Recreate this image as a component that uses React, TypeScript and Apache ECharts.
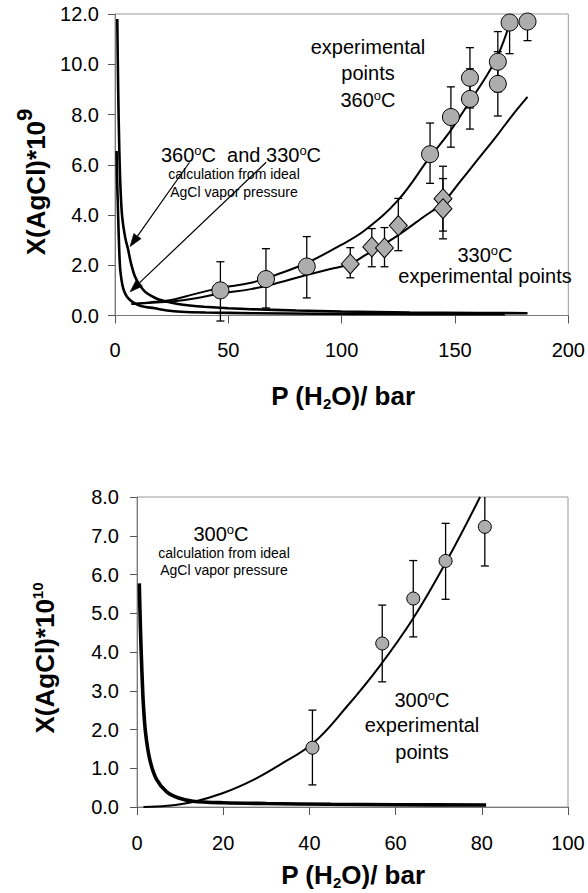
import React, { useEffect, useRef } from "react";
import * as echarts from "echarts";

const FONT = '"Liberation Sans", Arial, Helvetica, sans-serif';

// ---------- Top chart (360 and 330 C) ----------
const topXTicks = [0, 50, 100, 150, 200];
const topYTicks = [0, 2, 4, 6, 8, 10, 12];

// calculation from ideal AgCl vapor pressure, 360 C
const calc360: number[][] = [
  [1.0, 11.8], [1.4, 9.0], [1.9, 6.6], [2.5, 4.9], [3.2, 3.9], [4.5, 3.1], [5.8, 2.62],
  [7.0, 2.1], [8.8, 1.55], [11, 1.2], [13.2, 0.95], [16, 0.78], [19, 0.65], [23, 0.55],
  [27.8, 0.46], [33, 0.4], [39.3, 0.35], [50, 0.29], [60, 0.25], [80, 0.2], [100, 0.16],
  [130, 0.12], [160, 0.1], [182, 0.09],
];
// calculation from ideal AgCl vapor pressure, 330 C
const calc330: number[][] = [
  [0.7, 6.55], [0.9, 5.5], [1.2, 4.6], [1.6, 3.3], [2.2, 1.95], [2.9, 1.4], [3.6, 1.09],
  [4.6, 0.85], [5.8, 0.69], [7.5, 0.55], [10.2, 0.42], [13, 0.35], [17.5, 0.29], [23, 0.2],
  [29.2, 0.15], [40, 0.12], [61, 0.09], [90, 0.07], [120, 0.06], [150, 0.05], [172, 0.05],
];
// fitted curves through the experimental points
const fit360: number[][] = [
  [7.3, 0.46], [15, 0.52], [24.8, 0.62], [35, 0.85], [46.5, 1.1], [60, 1.3], [72, 1.65],
  [84.8, 2.1], [99.6, 2.8], [110.4, 3.4], [125, 4.6], [138.9, 6.3], [148, 7.35],
  [156.4, 8.5], [163, 9.4], [168.9, 10.35], [174.3, 11.66],
];
const fit330: number[][] = [
  [7.3, 0.46], [15, 0.5], [24.8, 0.56], [35, 0.68], [46.5, 0.88], [60, 1.05], [72, 1.3],
  [84.8, 1.62], [95, 1.85], [103.8, 2.05], [110.4, 2.4], [118, 2.8], [125, 3.2], [135, 3.85],
  [144.7, 4.5], [152, 5.3], [160, 6.2], [168, 7.1], [174.7, 7.9], [182, 8.7],
];
// experimental points: [P, X, low, high]
const exp360: number[][] = [
  [46.5, 1.0, -0.22, 2.14], [66.6, 1.45, 0.3, 2.66], [84.6, 1.95, 0.7, 3.14],
  [139, 6.42, 5.26, 7.66], [148.2, 7.9, 6.7, 9.1], [156.6, 9.46, 8.26, 10.66],
  [156.6, 8.62, 7.42, 9.82], [168.9, 10.1, 8.9, 11.3], [168.9, 9.22, 7.94, 10.5],
  [174.1, 11.66, 10.42, 12.9], [182.0, 11.7, 10.94, 12.46],
];
const exp330: number[][] = [
  [103.8, 2.05, 1.5, 2.7], [113.3, 2.73, 1.94, 3.46], [118.9, 2.69, 1.94, 3.5],
  [125, 3.58, 2.58, 4.66], [144.7, 4.65, 3.36, 5.94], [144.7, 4.25, 3.05, 5.45],
];
// annotation arrows: [fromP, fromX, toP, toX]
const topArrows: number[][] = [
  [32.9, 6.1, 6.6, 2.74],
  [66.7, 6.1, 6.6, 0.94],
];

// ---------- Bottom chart (300 C) ----------
const botXTicks = [0, 20, 40, 60, 80, 100];
const botYTicks = [0, 1, 2, 3, 4, 5, 6, 7, 8];
const calc300: number[][] = [
  [0.53, 5.77], [0.8, 4.6], [1.1, 3.6], [1.46, 2.68], [2.0, 1.9], [3.0, 1.21], [4.5, 0.72],
  [6.9, 0.39], [9.5, 0.24], [13, 0.15], [20, 0.11], [30, 0.09], [45, 0.07], [60, 0.06],
  [81, 0.05],
];
const fit300: number[][] = [
  [1.5, 0.0], [7, 0.03], [13, 0.13], [20, 0.36], [27, 0.7], [33, 1.08], [40.9, 1.65],
  [48.6, 2.58], [56.4, 3.65], [64.1, 4.87], [71.9, 6.36], [79.6, 8.0],
];
const exp300: number[][] = [
  [40.7, 1.53, 0.57, 2.5], [56.9, 4.22, 3.23, 5.21], [64.1, 5.38, 4.39, 6.36],
  [71.6, 6.35, 5.36, 7.32], [80.7, 7.23, 6.22, 8.25],
];

const errorRender = (cap: number) => (params: any, api: any) => {
  const x = api.value(0);
  const lo = api.value(2);
  const hi = api.value(3);
  const pHi = api.coord([x, hi]);
  const pLo = api.coord([x, lo]);
  const cs = params.coordSys;
  const topY = Math.max(pHi[1], cs.y);
  const style = { stroke: "#000", lineWidth: 1.3 };
  const children: any[] = [
    { type: "line", shape: { x1: pHi[0], y1: topY, x2: pLo[0], y2: pLo[1] }, style },
    { type: "line", shape: { x1: pLo[0] - cap, y1: pLo[1], x2: pLo[0] + cap, y2: pLo[1] }, style },
  ];
  if (pHi[1] >= cs.y) {
    children.push({ type: "line", shape: { x1: pHi[0] - cap, y1: pHi[1], x2: pHi[0] + cap, y2: pHi[1] }, style });
  }
  return { type: "group", children };
};

const axisCommon = {
  type: "value" as const,
  axisLine: { show: true, onZero: false, lineStyle: { color: "#7a7a7a", width: 1 } },
  axisTick: { show: true, length: 8, lineStyle: { color: "#555", width: 1 } },
  splitLine: { show: false },
};

const labelStyle = { fontSize: 20, color: "#000", fontFamily: FONT };

const richBase = {
  n: { fontSize: 20, fontFamily: FONT, color: "#000", lineHeight: 22 },
  s: { fontSize: 13, fontFamily: FONT, color: "#000", verticalAlign: "top", lineHeight: 13 },
  m: { fontSize: 14, fontFamily: FONT, color: "#000" },
};

function txt(x: number, y: number, text: string, rich: any = richBase) {
  return {
    type: "text",
    x,
    y,
    silent: true,
    style: { text, rich, align: "center", verticalAlign: "middle", fill: "#000" },
  };
}

const titleRich = {
  n: { fontSize: 26, fontWeight: "bold", fontFamily: FONT, color: "#000", lineHeight: 30 },
  nt: { fontSize: 26, fontWeight: "bold", fontFamily: FONT, color: "#000", lineHeight: 46 },
  s9: { fontSize: 22, fontWeight: "bold", fontFamily: FONT, color: "#000", verticalAlign: "top", lineHeight: 22 },
  s10: { fontSize: 15, fontWeight: "bold", fontFamily: FONT, color: "#000", verticalAlign: "top", lineHeight: 15 },
  sub: { fontSize: 15, fontWeight: "bold", fontFamily: FONT, color: "#000", verticalAlign: "bottom", lineHeight: 15 },
};

export default function App() {
  const ref = useRef<HTMLDivElement>(null);
  useEffect(() => {
    if (!ref.current) return;
    const chart = echarts.init(ref.current, undefined, { renderer: "svg" });
    const staticGraphic: any[] = [
      // top annotations
      txt(241, 155, "{n|360}{s|o}{n|C  and 330}{s|o}{n|C}"),
      txt(234, 174, "{m|calculation from ideal}"),
      txt(234, 192, "{m|AgCl vapor pressure}"),
      txt(368, 47, "{n|experimental}"),
      txt(368, 73, "{n|points}"),
      txt(368, 100, "{n|360}{s|o}{n|C}"),
      txt(485, 255, "{n|330}{s|o}{n|C}"),
      txt(485, 276, "{n|experimental points}"),
      // bottom annotations
      txt(221, 534, "{n|300}{s|o}{n|C}"),
      txt(224, 553, "{m|calculation from ideal}"),
      txt(224, 570, "{m|AgCl vapor pressure}"),
      txt(422, 700, "{n|300}{s|o}{n|C}"),
      txt(422, 725, "{n|experimental}"),
      txt(422, 752, "{n|points}"),
      // axis titles
      txt(343, 396, "{n|P (H}{sub|2}{n|O)/ bar}", titleRich),
      txt(353, 875, "{n|P (H}{sub|2}{n|O)/ bar}", titleRich),
      { ...txt(36, 182, "{nt|X(AgCl)*10}{s9|9}", titleRich), rotation: Math.PI / 2 },
      { ...txt(45, 658, "{n|X(AgCl)*10}{s10|10}", titleRich), rotation: Math.PI / 2 },
    ];
    const option: any = {
      animation: false,
      backgroundColor: "#fff",
      grid: [
        { left: 115, top: 14, width: 456, height: 301.5, show: true, borderColor: "#9a9a9a", borderWidth: 1 },
        { left: 137, top: 497, width: 431, height: 310, show: true, borderColor: "#9a9a9a", borderWidth: 1 },
      ],
      xAxis: [
        {
          ...axisCommon, gridIndex: 0, min: topXTicks[0], max: topXTicks[topXTicks.length - 1], interval: 50,
          axisLabel: { ...labelStyle, margin: 24 },
        },
        {
          ...axisCommon, gridIndex: 1, min: botXTicks[0], max: botXTicks[botXTicks.length - 1], interval: 20,
          axisLabel: { ...labelStyle, margin: 26 },
        },
      ],
      yAxis: [
        {
          ...axisCommon, gridIndex: 0, min: topYTicks[0], max: topYTicks[topYTicks.length - 1], interval: 2,
          axisTick: { show: true, length: 7, lineStyle: { color: "#555" } },
          axisLabel: { ...labelStyle, margin: 16, formatter: (v: number) => v.toFixed(1) },
        },
        {
          ...axisCommon, gridIndex: 1, min: botYTicks[0], max: botYTicks[botYTicks.length - 1], interval: 1,
          axisTick: { show: true, length: 7, lineStyle: { color: "#555" } },
          axisLabel: { ...labelStyle, margin: 18, formatter: (v: number) => v.toFixed(1) },
        },
      ],
      series: [
        { type: "line", xAxisIndex: 0, yAxisIndex: 0, data: calc360, symbol: "none", smooth: 0.3, lineStyle: { color: "#000", width: 2.6 }, z: 3 },
        { type: "line", xAxisIndex: 0, yAxisIndex: 0, data: calc330, symbol: "none", smooth: 0.3, lineStyle: { color: "#000", width: 2.6 }, z: 3 },
        { type: "line", xAxisIndex: 0, yAxisIndex: 0, data: fit360, symbol: "none", smooth: 0.4, lineStyle: { color: "#000", width: 2 }, z: 3 },
        { type: "line", xAxisIndex: 0, yAxisIndex: 0, data: fit330, symbol: "none", smooth: 0.4, lineStyle: { color: "#000", width: 2 }, z: 3 },
        { type: "custom", xAxisIndex: 0, yAxisIndex: 0, data: exp360, renderItem: errorRender(4), encode: { x: 0, y: 1 }, z: 4 },
        { type: "custom", xAxisIndex: 0, yAxisIndex: 0, data: exp330, renderItem: errorRender(4), encode: { x: 0, y: 1 }, z: 4 },
        {
          type: "scatter", xAxisIndex: 0, yAxisIndex: 0, data: exp360.map((d) => [d[0], d[1]]), symbol: "circle", symbolSize: 17,
          itemStyle: { color: "#adadad", borderColor: "#000", borderWidth: 1, opacity: 1 }, z: 5,
        },
        {
          type: "scatter", xAxisIndex: 0, yAxisIndex: 0, data: exp330.map((d) => [d[0], d[1]]), symbol: "diamond", symbolSize: [18, 20],
          itemStyle: { color: "#adadad", borderColor: "#000", borderWidth: 1, opacity: 1 }, z: 5,
        },
        // bottom
        { type: "line", xAxisIndex: 1, yAxisIndex: 1, data: calc300, symbol: "none", smooth: 0.3, lineStyle: { color: "#000", width: 3.6 }, z: 3 },
        { type: "line", xAxisIndex: 1, yAxisIndex: 1, data: fit300, symbol: "none", smooth: 0.4, lineStyle: { color: "#000", width: 2 }, z: 3 },
        { type: "custom", xAxisIndex: 1, yAxisIndex: 1, data: exp300, renderItem: errorRender(4), encode: { x: 0, y: 1 }, z: 4 },
        {
          type: "scatter", xAxisIndex: 1, yAxisIndex: 1, data: exp300.map((d) => [d[0], d[1]]), symbol: "circle", symbolSize: 13,
          itemStyle: { color: "#adadad", borderColor: "#000", borderWidth: 1, opacity: 1 }, z: 5,
        },
      ],
      graphic: staticGraphic,
    };
    chart.setOption(option);

    // arrows from annotation to the calculated curves
    const arrowEls: any[] = [];
    topArrows.forEach((a) => {
      const p0 = chart.convertToPixel({ gridIndex: 0 }, [a[0], a[1]]) as number[];
      const p1 = chart.convertToPixel({ gridIndex: 0 }, [a[2], a[3]]) as number[];
      const dx = p1[0] - p0[0];
      const dy = p1[1] - p0[1];
      const len = Math.sqrt(dx * dx + dy * dy);
      const ux = dx / len;
      const uy = dy / len;
      const headL = 13;
      const headW = 4.5;
      const bx = p1[0] - ux * headL;
      const by = p1[1] - uy * headL;
      arrowEls.push({
        type: "line", silent: true, z: 20,
        shape: { x1: p0[0], y1: p0[1], x2: bx, y2: by },
        style: { stroke: "#000", lineWidth: 1.2 },
      });
      arrowEls.push({
        type: "polygon", silent: true, z: 20,
        shape: { points: [[p1[0], p1[1]], [bx - uy * headW, by + ux * headW], [bx + uy * headW, by - ux * headW]] },
        style: { fill: "#000", stroke: "#000", lineWidth: 0.5 },
      });
    });
    chart.setOption({ graphic: [...staticGraphic, ...arrowEls] });
    return () => chart.dispose();
  }, []);
  return (
    <div
      ref={ref}
      style={{ position: "absolute", left: 0, top: 0, width: 588, height: 893, background: "#fff" }}
    />
  );
}
